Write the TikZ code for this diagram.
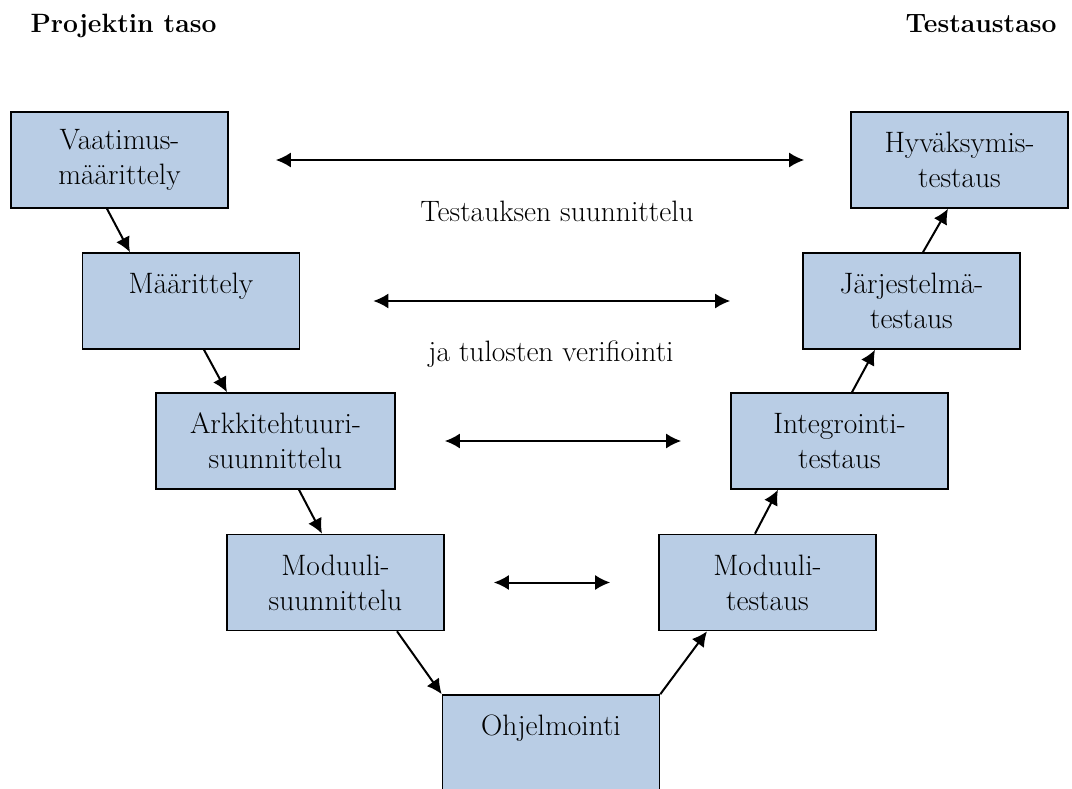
\documentclass[tikz,border=0pt]{standalone}
\usepackage{tikz}
\usetikzlibrary{arrows.meta}
\definecolor{laatikko}{HTML}{B9CDE5}

\begin{document}
\begin{tikzpicture}[>={Latex[length=15pt,width=15pt]},x=1pt,y=-1pt,
        vaihe/.style={draw,line width=1.6pt,fill=laatikko,minimum width=217pt,minimum height=96pt,
            inner sep=0pt,align=center,font=\fontsize{29.5}{35}\selectfont},
        nuoli/.style={line width=2pt},
        teksti/.style={anchor=base,font=\fontsize{29.5}{35}\selectfont},
        otsikko/.style={font=\fontsize{26.5}{31}\selectfont\bfseries}]
        \useasboundingbox(0,0)rectangle(1072,789);
        % otsikot
        \node[otsikko,anchor=base west](proj)at(27,33){Projektin taso};
        \node[otsikko,anchor=base east](test)at(1060,33){Testaustaso};
        % vasen haara
        \node[vaihe](vaat)at(119.5,160){Vaatimus-\\määrittely};
        \node[vaihe](maar)at(191,301){Määrittely\\\mbox{}};
        \node[vaihe,minimum width=239pt](arkk)at(275.5,441){Arkkitehtuuri-\\suunnittelu};
        \node[vaihe](modsu)at(335.5,582.5){Moduuli-\\suunnittelu};
        \node[vaihe](ohje)at(551,743){Ohjelmointi\\\mbox{}};
        % oikea haara
        \node[vaihe](modte)at(767.5,582.5){Moduuli-\\testaus};
        \node[vaihe](integ)at(839.5,441){Integrointi-\\testaus};
        \node[vaihe](jarj)at(911.5,301){Järjestelmä-\\testaus};
        \node[vaihe](hyva)at(959.5,160){Hyväksymis-\\testaus};
        % V:n nuolet
        \draw[nuoli,->]([xshift=-12.5]vaat.south)--([xshift=-61]maar.north);
        \draw[nuoli,->]([xshift=13]maar.south)--([xshift=-48.5]arkk.north);
        \draw[nuoli,->]([xshift=23.5]arkk.south)--([xshift=-13.5]modsu.north);
        \draw[nuoli,->]([xshift=61.5]modsu.south)--(ohje.north west);
        \draw[nuoli,->](ohje.north east)--([xshift=-60.5]modte.south);
        \draw[nuoli,->]([xshift=-12.5]modte.north)--([xshift=-61.5]integ.south);
        \draw[nuoli,->]([xshift=12.5]integ.north)--([xshift=-36.5]jarj.south);
        \draw[nuoli,->]([xshift=11.5]jarj.north)--([xshift=-11.5]hyva.south);
        % vaakanuolet
        \draw[nuoli,<->]([xshift=47]vaat.east)--([xshift=-46]hyva.west);
        \draw[nuoli,<->]([xshift=73]maar.east)--([xshift=-72]jarj.west);
        \draw[nuoli,<->]([xshift=49]arkk.east)--([xshift=-49]integ.west);
        \draw[nuoli,<->]([xshift=49]modsu.east)--([xshift=-48]modte.west);
        \node[teksti](suun)at(557,222){Testauksen suunnittelu};
        \node[teksti](veri)at(551,361){ja tulosten verifiointi};
\end{tikzpicture}
\end{document}
